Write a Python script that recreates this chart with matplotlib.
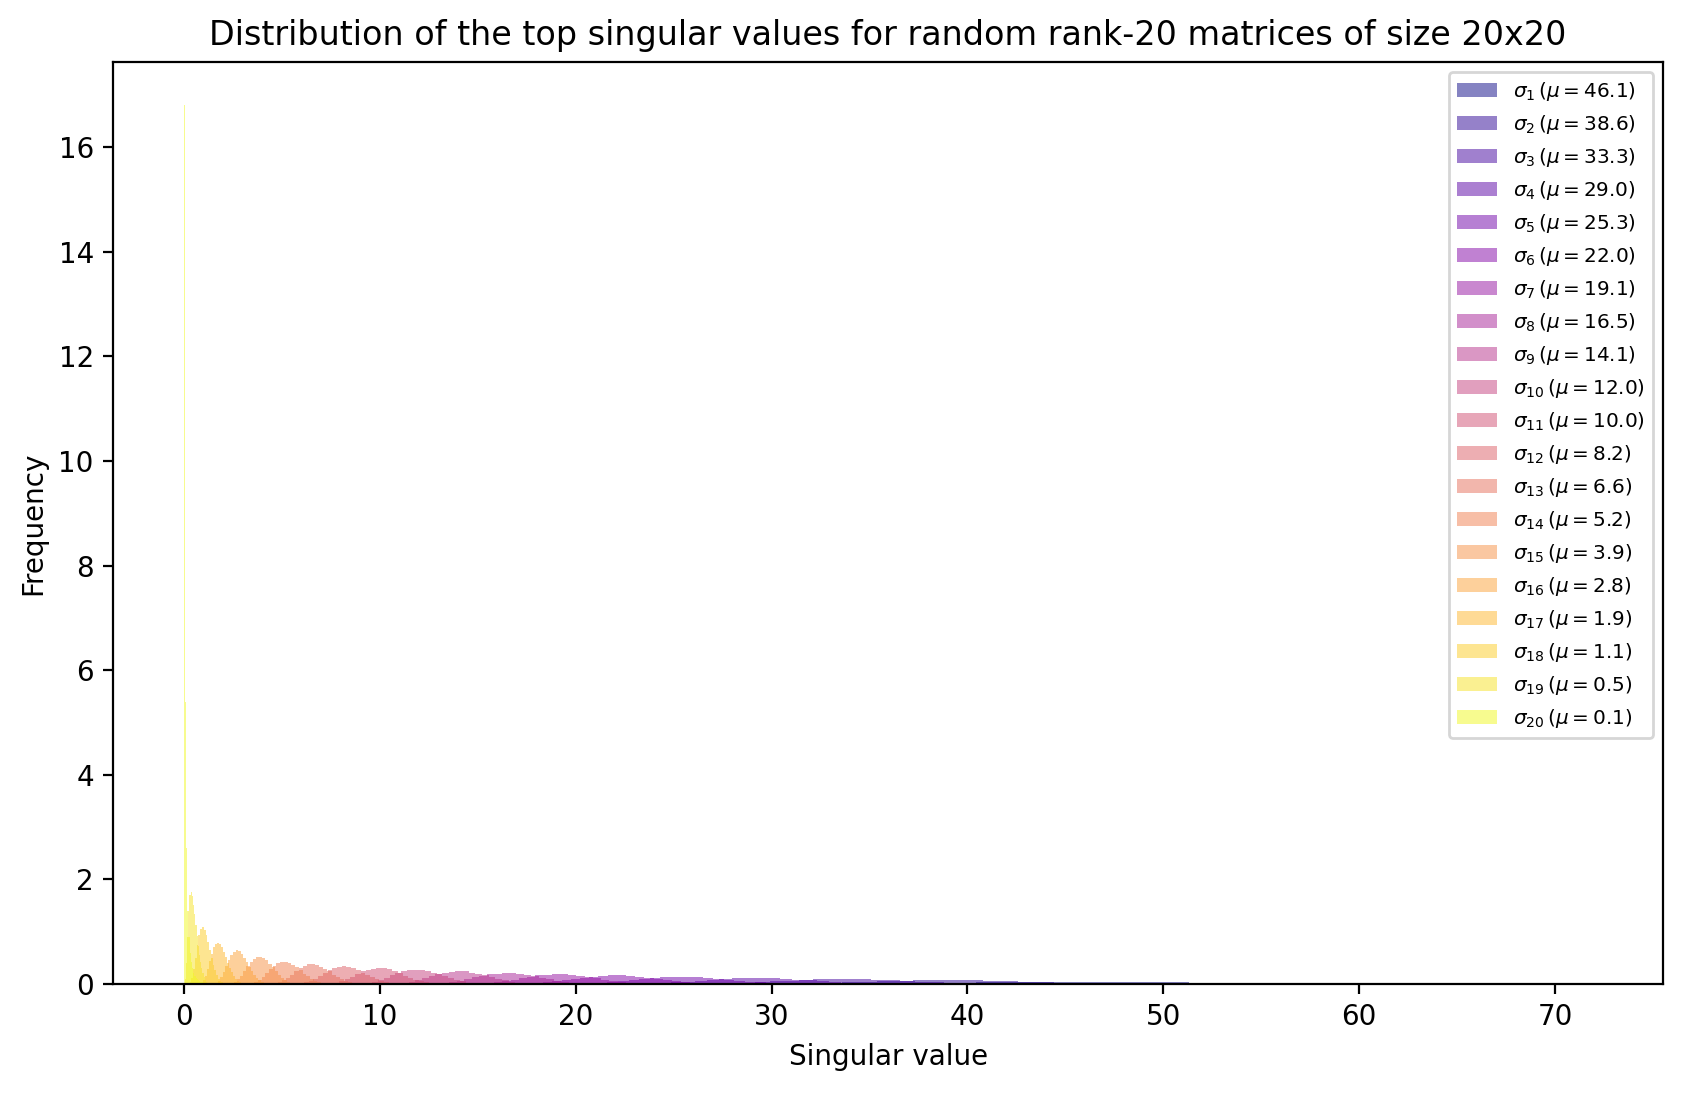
import numpy as np
import matplotlib
matplotlib.use("Agg")
import matplotlib.pyplot as plt

# legend means for sigma_1 .. sigma_20
sv_means = [46.1, 38.6, 33.3, 29.0, 25.3, 22.0, 19.1, 16.5, 14.1, 12.0,
            10.0, 8.2, 6.6, 5.2, 3.9, 2.8, 1.9, 1.1, 0.5, 0.1]

# histogram range of each singular value
sv_lo = [35.6, 30.0, 26.2, 23.0, 20.0, 17.4, 15.0, 12.8, 10.8, 9.0,
         7.4, 5.9, 4.6, 3.4, 2.4, 1.6, 0.9, 0.3, 0.05, 0.0]
sv_hi = [71.9, 48.0, 41.0, 35.4, 30.8, 26.8, 23.4, 20.4, 17.6, 15.0,
         12.8, 10.7, 8.8, 7.2, 5.6, 4.2, 3.1, 2.1, 1.25, 1.2]

# bin heights (density) per singular value
h1 = [0.003, 0.008, 0.015, 0.024, 0.033, 0.040, 0.045, 0.047, 0.047, 0.045,
      0.042, 0.038, 0.030, 0.018, 0.004, 0.003, 0.002, 0.0015, 0.001, 0.001,
      0.0008, 0.0006, 0.0005, 0.0004, 0.0003, 0.0003, 0.0002, 0.0002, 0.0001, 0.0001]
h2 = [0.003, 0.006, 0.012, 0.020, 0.030, 0.042, 0.054, 0.065, 0.072, 0.076,
      0.076, 0.072, 0.065, 0.056, 0.046, 0.036, 0.026, 0.017, 0.010, 0.005]
h3 = [0.004, 0.008, 0.015, 0.025, 0.037, 0.052, 0.066, 0.079, 0.089, 0.095,
      0.095, 0.090, 0.082, 0.071, 0.058, 0.045, 0.033, 0.022, 0.013, 0.006]
h4 = [0.005, 0.010, 0.020, 0.030, 0.045, 0.065, 0.080, 0.095, 0.108, 0.115,
      0.115, 0.108, 0.097, 0.083, 0.068, 0.052, 0.038, 0.025, 0.014, 0.007]
h5 = [0.005, 0.010, 0.020, 0.040, 0.060, 0.080, 0.100, 0.120, 0.130, 0.140,
      0.140, 0.130, 0.120, 0.100, 0.085, 0.065, 0.045, 0.030, 0.015, 0.008]
h6 = [0.010, 0.010, 0.030, 0.050, 0.070, 0.090, 0.120, 0.140, 0.155, 0.165,
      0.165, 0.155, 0.140, 0.120, 0.100, 0.075, 0.055, 0.035, 0.020, 0.010]
h7 = [0.01, 0.02, 0.03, 0.05, 0.08, 0.11, 0.14, 0.17, 0.18, 0.19,
      0.19, 0.18, 0.16, 0.14, 0.11, 0.08, 0.06, 0.04, 0.02, 0.01]
h8 = [0.01, 0.02, 0.04, 0.06, 0.09, 0.13, 0.16, 0.19, 0.20, 0.21,
      0.21, 0.20, 0.18, 0.15, 0.12, 0.09, 0.06, 0.04, 0.02, 0.01]
h9 = [0.01, 0.02, 0.04, 0.07, 0.11, 0.15, 0.19, 0.21, 0.23, 0.24,
      0.24, 0.22, 0.20, 0.17, 0.13, 0.10, 0.07, 0.04, 0.02, 0.01]
h10 = [0.01, 0.02, 0.04, 0.08, 0.12, 0.17, 0.21, 0.24, 0.26, 0.27,
       0.27, 0.25, 0.22, 0.19, 0.15, 0.11, 0.07, 0.05, 0.02, 0.01]
h11 = [0.01, 0.02, 0.05, 0.09, 0.14, 0.19, 0.24, 0.27, 0.29, 0.30,
       0.30, 0.28, 0.25, 0.21, 0.16, 0.12, 0.08, 0.05, 0.03, 0.01]
h12 = [0.01, 0.03, 0.06, 0.10, 0.16, 0.22, 0.27, 0.31, 0.33, 0.34,
       0.33, 0.31, 0.27, 0.22, 0.17, 0.13, 0.09, 0.05, 0.03, 0.01]
h13 = [0.01, 0.03, 0.07, 0.12, 0.18, 0.25, 0.31, 0.35, 0.38, 0.38,
       0.37, 0.33, 0.29, 0.24, 0.18, 0.13, 0.09, 0.05, 0.03, 0.01]
h14 = [0.01, 0.04, 0.08, 0.14, 0.21, 0.29, 0.35, 0.40, 0.43, 0.43,
       0.41, 0.37, 0.32, 0.26, 0.20, 0.15, 0.10, 0.06, 0.03, 0.01]
h15 = [0.01, 0.04, 0.09, 0.16, 0.25, 0.34, 0.42, 0.48, 0.51, 0.52,
       0.50, 0.45, 0.39, 0.32, 0.25, 0.18, 0.12, 0.08, 0.04, 0.02]
h16 = [0.02, 0.06, 0.13, 0.23, 0.35, 0.46, 0.56, 0.62, 0.65, 0.63,
       0.58, 0.50, 0.42, 0.33, 0.25, 0.18, 0.12, 0.07, 0.04, 0.02]
h17 = [0.02, 0.07, 0.16, 0.29, 0.44, 0.58, 0.70, 0.77, 0.79, 0.76,
       0.70, 0.61, 0.51, 0.41, 0.31, 0.23, 0.16, 0.10, 0.06, 0.04, 0.02, 0.01]
h18 = [0.03, 0.12, 0.28, 0.50, 0.74, 0.94, 1.06, 1.09, 1.04, 0.93,
       0.80, 0.65, 0.50, 0.37, 0.26, 0.17, 0.10, 0.06, 0.03, 0.01]
h19 = [0.10, 0.40, 0.90, 1.40, 1.70, 1.76, 1.68, 1.52, 1.33, 1.12,
       0.92, 0.73, 0.56, 0.42, 0.30, 0.21, 0.14, 0.08, 0.04, 0.02]
h20 = [16.8, 5.4, 2.6, 1.4, 0.9, 0.6, 0.42, 0.30, 0.22, 0.16,
       0.12, 0.09, 0.07, 0.05, 0.04, 0.03, 0.02, 0.015, 0.01, 0.005]

sv_heights = [h1, h2, h3, h4, h5, h6, h7, h8, h9, h10,
              h11, h12, h13, h14, h15, h16, h17, h18, h19, h20]

n_sv = len(sv_means)

fig = plt.figure(figsize=(8.415, 5.465), dpi=200)
ax = fig.add_axes([0.0673, 0.0997, 0.9208, 0.8438])

cmap = plt.get_cmap("plasma")
for i in range(n_sv):
    heights = np.array(sv_heights[i])
    edges = np.linspace(sv_lo[i], sv_hi[i], len(heights) + 1)
    ax.hist(edges[:-1], bins=edges, weights=heights,
            color=cmap(i / (n_sv - 1)), alpha=0.5,
            label=rf"$\sigma_{{{i + 1}}}\,(\mu={sv_means[i]:.1f})$")

ax.set_xlim(-3.6, 75.5)
ax.set_ylim(0, 17.63)
ax.set_xlabel("Singular value")
ax.set_ylabel("Frequency")
ax.set_title("Distribution of the top singular values for random rank-20 matrices of size 20x20")
ax.legend(loc="upper right", fontsize=7.2)

fig.savefig("out.png", dpi=200)
